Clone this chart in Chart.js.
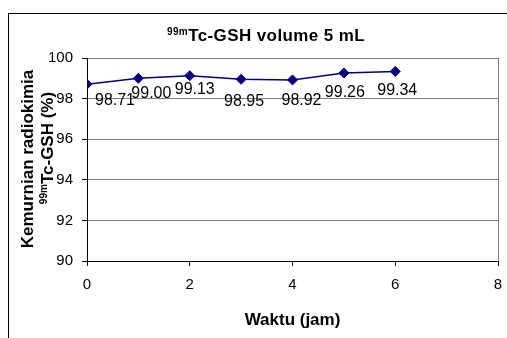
<!DOCTYPE html>
<html>
<head>
<meta charset="utf-8">
<style>
  html, body { margin: 0; padding: 0; background: #fff; }
  canvas { display: block; }
</style>
<script src="https://cdn.jsdelivr.net/npm/chart.js@4/dist/chart.umd.min.js"></script>
</head>
<body>
<canvas id="c" width="507" height="338"></canvas>
<script>
// Radiochemical purity of 99mTc-GSH (5 mL) over time
const hours = [0, 1, 2, 3, 4, 5, 6];
const purity = [98.71, 99.00, 99.13, 98.95, 98.92, 99.26, 99.34];
const xRange = [0, 8];
const yRange = [90, 100];
const tickStep = 2;

const FONT = "'Liberation Sans', Arial, Helvetica, sans-serif";

// Draw a line of text made of normal and superscript runs, centred on x
function drawRich(ctx, parts, x, y, size, spacing) {
  const supSize = Math.round(size * 0.6);
  ctx.letterSpacing = (spacing || 0) + 'px';
  let total = 0;
  const widths = parts.map(p => {
    ctx.font = 'bold ' + (p.sup ? supSize : size) + 'px ' + FONT;
    const w = ctx.measureText(p.text).width;
    total += w;
    return w;
  });
  let cx = x - total / 2;
  ctx.textAlign = 'left';
  ctx.textBaseline = 'alphabetic';
  parts.forEach((p, i) => {
    ctx.font = 'bold ' + (p.sup ? supSize : size) + 'px ' + FONT;
    ctx.fillText(p.text, cx, p.sup ? y - size * 0.38 : y);
    cx += widths[i];
  });
  ctx.letterSpacing = '0px';
}

const decorations = {
  id: 'decorations',
  afterDatasetsDraw(chart, args, opts) {
    const ctx = chart.ctx;
    const meta = chart.getDatasetMeta(0);
    ctx.save();
    ctx.fillStyle = '#000';
    ctx.font = '16px ' + FONT;
    ctx.textAlign = 'center';
    ctx.textBaseline = 'middle';
    meta.data.forEach((pt, i) => {
      const off = opts.labelOffsets[i] || [0, 18];
      ctx.fillText(purity[i].toFixed(2), pt.x + off[0], pt.y + off[1]);
    });
    ctx.restore();
  },
  afterDraw(chart) {
    const ctx = chart.ctx;
    const area = chart.chartArea;
    ctx.save();
    // outer frame
    ctx.strokeStyle = '#000';
    ctx.lineWidth = 1;
    ctx.beginPath();
    ctx.moveTo(8.5, chart.height);
    ctx.lineTo(8.5, 13.5);
    ctx.lineTo(chart.width, 13.5);
    ctx.stroke();

    ctx.fillStyle = '#000';
    // chart title
    drawRich(ctx, [{ text: '99m', sup: true }, { text: 'Tc-GSH volume 5 mL' }], 266, 41, 17, 0.4);

    // x axis title
    ctx.font = 'bold 17px ' + FONT;
    ctx.textAlign = 'center';
    ctx.textBaseline = 'alphabetic';
    ctx.fillText('Waktu (jam)', (area.left + area.right) / 2, 325);

    // y axis title (two lines, rotated)
    ctx.save();
    ctx.translate(33, 159);
    ctx.rotate(-Math.PI / 2);
    ctx.font = 'bold 17px ' + FONT;
    ctx.textAlign = 'center';
    ctx.fillText('Kemurnian radiokimia', 0, 0);
    ctx.restore();

    ctx.save();
    ctx.translate(53, 148);
    ctx.rotate(-Math.PI / 2);
    drawRich(ctx, [{ text: '99m', sup: true }, { text: 'Tc-GSH (%)' }], 0, 0, 17);
    ctx.restore();

    ctx.restore();
  }
};

new Chart(document.getElementById('c'), {
  type: 'line',
  data: {
    datasets: [{
      data: hours.map((h, i) => ({ x: h, y: purity[i] })),
      borderColor: '#000080',
      backgroundColor: '#000080',
      borderWidth: 1.5,
      pointStyle: 'rectRot',
      pointRadius: 5,
      pointBorderWidth: 1,
      tension: 0
    }]
  },
  options: {
    responsive: false,
    animation: false,
    devicePixelRatio: 1,
    layout: { padding: { top: 58, right: 9, left: 0, bottom: 0 } },
    plugins: {
      legend: { display: false },
      title: { display: false },
      tooltip: { enabled: false },
      decorations: {
        labelOffsets: [[28, 16], [13, 15], [5, 14], [3, 22], [9, 21], [1, 20], [2, 19]]
      }
    },
    scales: {
      x: {
        type: 'linear',
        min: xRange[0],
        max: xRange[1],
        afterFit(s) { s.height = 77; s.paddingRight = 0; },
        ticks: {
          stepSize: tickStep,
          color: '#000',
          padding: 10,
          maxRotation: 0,
          font: { family: FONT, size: 15 }
        },
        grid: {
          color: c => (c.tick && c.tick.value === xRange[1]) ? '#808080' : 'rgba(0,0,0,0)',
          tickColor: '#000',
          tickLength: 5,
          lineWidth: 1
        },
        border: { color: '#000', width: 1 }
      },
      y: {
        min: yRange[0],
        max: yRange[1],
        afterFit(s) { s.width = 87; },
        ticks: {
          stepSize: tickStep,
          color: '#000',
          padding: 9,
          font: { family: FONT, size: 15 }
        },
        grid: {
          color: '#808080',
          tickColor: '#000',
          tickLength: 5,
          lineWidth: 1
        },
        border: { color: '#000', width: 1 }
      }
    }
  },
  plugins: [decorations]
});
</script>
</body>
</html>
